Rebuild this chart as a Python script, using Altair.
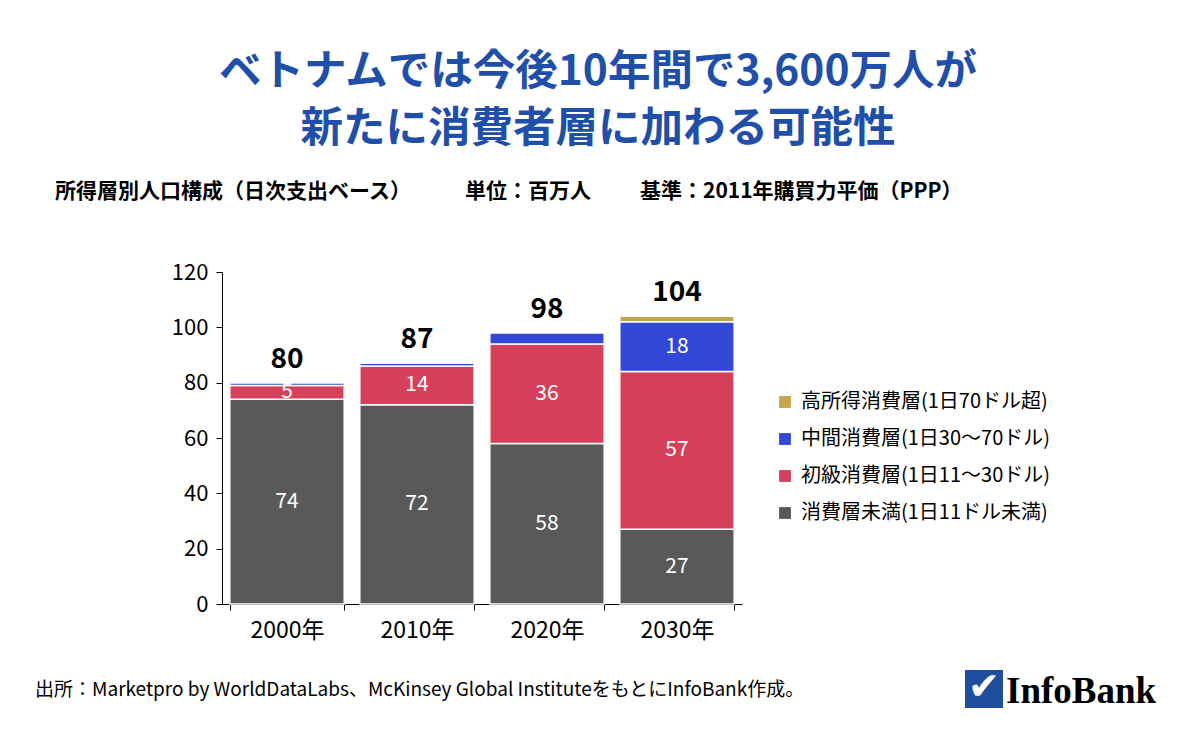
import altair as alt
import pandas as pd

years = ["2000年", "2010年", "2020年", "2030年"]
tiers = [
    "消費層未満(1日11ドル未満)",
    "初級消費層(1日11～30ドル)",
    "中間消費層(1日30～70ドル)",
    "高所得消費層(1日70ドル超)",
]
below = [74, 72, 58, 27]
entry = [5, 14, 36, 57]
middle = [1, 1, 4, 18]
high = [0, 0, 0, 2]
colors = ["#595959", "#D5405A", "#3347D6", "#C8A44A"]

title1 = "ベトナムでは今後10年間で3,600万人が"
title2 = "新たに消費者層に加わる可能性"
sub_a = "所得層別人口構成（日次支出ベース）"
sub_b = "単位：百万人"
sub_c = "基準：2011年購買力平価（PPP）"
source = "出所：Marketpro by WorldDataLabs、McKinsey Global InstituteをもとにInfoBank作成。"

rows = []
for si, series in enumerate([below, entry, middle, high]):
    for yi, y in enumerate(years):
        rows.append({"year": years[yi], "tier": tiers[si], "value": series[yi], "ord": si})
df = pd.DataFrame(rows)

FONT = "Noto Sans CJK JP"
W, H = 520, 332
PL, PT = 222, 272

base = alt.Chart(df)

bars = base.mark_bar(stroke="white", strokeWidth=1.5).encode(
    x=alt.X("year:N", sort=years, title=None,
            scale=alt.Scale(paddingInner=0.12, paddingOuter=0.06),
            axis=alt.Axis(labelAngle=0, labelFontSize=23, labelColor="black", labelFont=FONT,
                          tickBand="extent", tickColor="black", tickSize=6, domainColor="black",
                          labelPadding=9)),
    y=alt.Y("value:Q", stack="zero", title=None,
            scale=alt.Scale(domain=[0, 120], nice=False),
            axis=alt.Axis(values=[0, 20, 40, 60, 80, 100, 120], grid=False, labelFontSize=22,
                          labelColor="black", labelFont=FONT, tickColor="black", tickSize=6,
                          domainColor="black", labelPadding=8)),
    color=alt.Color("tier:N", scale=alt.Scale(domain=tiers[::-1], range=colors[::-1]),
                    legend=alt.Legend(title=None, orient="none", legendX=553, legendY=120,
                                      symbolType="square", symbolSize=140, symbolStrokeWidth=0,
                                      labelFontSize=20, labelFont=FONT, labelColor="black",
                                      labelLimit=0, rowPadding=17, labelOffset=6)),
    order=alt.Order("ord:Q", sort="ascending"),
)

seg_labels = base.transform_stack(
    stack="value", groupby=["year"], as_=["v0", "v1"], sort=[alt.SortField("ord", order="ascending")]
).transform_filter(alt.datum.value >= 5).transform_calculate(
    mid="(datum.v0 + datum.v1) / 2"
).mark_text(color="white", fontSize=21, font=FONT).encode(
    x=alt.X("year:N", sort=years),
    y=alt.Y("mid:Q"),
    text=alt.Text("value:Q"),
)

totals = base.transform_aggregate(total="sum(value)", groupby=["year"]).mark_text(
    fontSize=28, fontWeight="bold", font=FONT, color="black", baseline="bottom", dy=-9
).encode(
    x=alt.X("year:N", sort=years),
    y=alt.Y("total:Q"),
    text=alt.Text("total:Q"),
)

def txt(s, x, y, **kw):
    return alt.Chart(pd.DataFrame({"t": [s]})).mark_text(**kw).encode(
        text="t:N", x=alt.value(x), y=alt.value(y)
    )

TC = "#1F4FA8"
t1 = txt(title1, 598 - PL, 72 - PT, fontSize=42.5, fontWeight="bold", font=FONT, color=TC, align="center", baseline="middle")
t2 = txt(title2, 598 - PL, 129 - PT, fontSize=42.5, fontWeight="bold", font=FONT, color=TC, align="center", baseline="middle")
sa = txt(sub_a, 55 - PL, 192 - PT, fontSize=21, fontWeight="bold", font=FONT, color="black", align="left", baseline="middle")
sb = txt(sub_b, 465 - PL, 192 - PT, fontSize=21, fontWeight="bold", font=FONT, color="black", align="left", baseline="middle")
sc = txt(sub_c, 640 - PL, 192 - PT, fontSize=21, fontWeight="bold", font=FONT, color="black", align="left", baseline="middle")
src = txt(source, 35 - PL, 690 - PT, fontSize=19, font=FONT, color="black", align="left", baseline="middle")

logo_box = alt.Chart(pd.DataFrame({"a": [1]})).mark_rect(color="#1F4E9E").encode(
    x=alt.value(965 - PL), x2=alt.value(1003 - PL), y=alt.value(670 - PT), y2=alt.value(708 - PT)
)
logo_check = txt("✔", 984 - PL, 688 - PT, fontSize=38, font="DejaVu Sans", color="white", align="center", baseline="middle")
logo_text = txt("InfoBank", 1006 - PL, 692 - PT, fontSize=37, fontWeight="bold", font="Liberation Serif", color="black", align="left", baseline="middle")

chart = alt.layer(bars, seg_labels, totals, t1, t2, sa, sb, sc, src, logo_box, logo_check, logo_text).properties(
    width=W, height=H,
    autosize=alt.AutoSizeParams(type="none"),
    padding={"left": PL, "top": PT, "right": 1200 - PL - W, "bottom": 737 - PT - H},
    background="white",
).configure_view(stroke=None)

chart.save("out.html", embed_options={"renderer": "svg", "actions": False})
